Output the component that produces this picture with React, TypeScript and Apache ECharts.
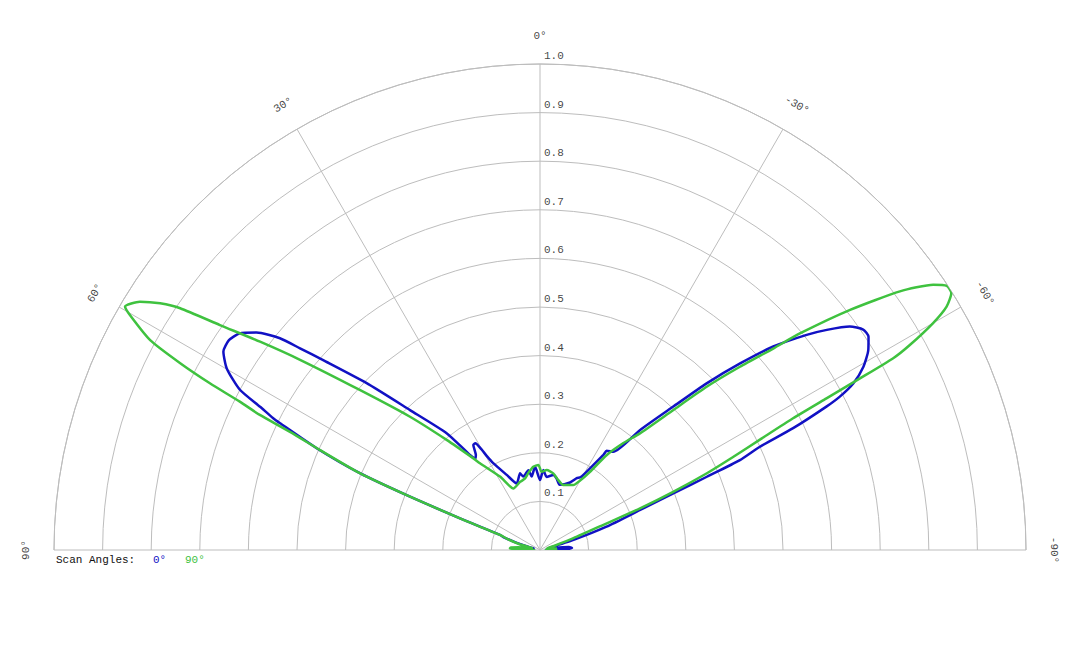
import React, { useEffect, useRef } from 'react'
import * as echarts from 'echarts'

// radius ticks (0.1 .. 1.0) and angle ticks shown round the half circle
const radiusTicks = [0.1, 0.2, 0.3, 0.4, 0.5, 0.6, 0.7, 0.8, 0.9, 1.0]
const angleTicks = [90, 60, 30, 0, -30, -60, -90]

// scan angle 0° : [angle (deg), normalized gain]
const scan0Angle = [
  90, 88, 86, 84, 82, 79, 76, 73, 70.5, 69.4, 68.4, 67.7, 66.9, 65.5, 64.0, 63.7, 62.9, 61.9, 59.9, 57.9,
  56.0, 54.2, 52.5, 50.85, 49.96, 48.8, 46.1, 42.9, 38.6, 36.4, 35.3, 34.0, 32.4, 31.2, 30.2, 29.5, 28.3, 23.9,
  19.3, 14.6, 12.8, 8.3, 6.5, 3.4, 0, -2.4, -5.2, -10.1, -13.1, -16.7, -24.0, -27.1, -29.2, -31.5, -33.7, -33.9,
  -36.7, -39.8, -42.9, -45.0, -47.0, -48.9, -51.1, -52.5, -54.2, -55.7, -57.0, -58.65, -60.45, -62.0, -62.9,
  -63.4, -64.3, -64.85, -65.8, -66.3, -67.0, -68.2, -70.7, -73.3, -77, -81, -84, -86.5, -88.5, -90,
]
const scan0Gain = [
  0.01, 0.035, 0.045, 0.04, 0.025, 0.012, 0.015, 0.05, 0.08, 0.088, 0.177, 0.289, 0.403, 0.505, 0.595, 0.613,
  0.647, 0.7, 0.745, 0.769, 0.772, 0.762, 0.735, 0.69, 0.645, 0.593, 0.495, 0.393, 0.307, 0.243, 0.231, 0.236,
  0.256, 0.257, 0.24, 0.222, 0.203, 0.169, 0.145, 0.163, 0.155, 0.166, 0.152, 0.172, 0.144, 0.165, 0.151, 0.157,
  0.151, 0.14, 0.152, 0.166, 0.172, 0.197, 0.235, 0.246, 0.252, 0.321, 0.403, 0.485, 0.563, 0.637, 0.705, 0.744,
  0.786, 0.805, 0.806, 0.791, 0.765, 0.73, 0.693, 0.659, 0.578, 0.5, 0.451, 0.375, 0.298, 0.222, 0.145, 0.072,
  0.02, 0.03, 0.06, 0.066, 0.05, 0.01,
]

// scan angle 90°
const scan90Angle = [
  90, 88.5, 87, 85, 83, 80, 77, 74, 71.5, 69.4, 68.4, 67.7, 66.9, 65.56, 64.7, 64.26, 63.7, 63.2, 62.55, 61.7,
  60.2, 59.6, 58.17, 57.0, 56.1, 54.9, 53.35, 51.6, 48.4, 44.3, 40.3, 36.0, 34.7, 28.6, 23.4, 16.3, 12, 8.7, 4.6,
  1.1, -1.2, -4.8, -9.8, -14, -19.7, -27.1, -30, -32.6, -35.1, -38, -40.6, -43.6, -45.6, -47.5, -49.2, -50.2,
  -52.25, -54.3, -56.0, -57.0, -58.0, -59.1, -60.0, -61.0, -61.5, -61.8, -62.1, -62.5, -63.3, -64.3, -65.3,
  -66.4, -67.4, -68.2, -70.6, -74, -78, -82, -85, -88, -90,
]
const scan90Gain = [
  0.01, 0.045, 0.062, 0.06, 0.045, 0.02, 0.015, 0.045, 0.07, 0.088, 0.177, 0.289, 0.403, 0.497, 0.569, 0.64,
  0.689, 0.761, 0.835, 0.911, 0.972, 0.99, 0.969, 0.932, 0.892, 0.805, 0.718, 0.63, 0.496, 0.383, 0.297, 0.233,
  0.217, 0.172, 0.138, 0.146, 0.15, 0.16, 0.172, 0.175, 0.161, 0.165, 0.16, 0.15, 0.142, 0.15, 0.165, 0.191, 0.239,
  0.28, 0.316, 0.398, 0.48, 0.558, 0.635, 0.696, 0.807, 0.912, 0.976, 0.998, 0.998, 0.975, 0.934, 0.87, 0.827,
  0.747, 0.667, 0.587, 0.51, 0.44, 0.378, 0.299, 0.223, 0.148, 0.073, 0.03, 0.015, 0.02, 0.035, 0.03, 0.01,
]

const BLUE = '#1111c4'
const GREEN = '#3fc23f'
const GRID = '#bdbdbd'
const TEXT = '#111'
const FONT = '"Liberation Mono", "DejaVu Sans Mono", monospace'

const App: React.FC = () => {
  const chartRef = useRef<HTMLDivElement>(null)

  useEffect(() => {
    if (!chartRef.current) return
    const chart = echarts.init(chartRef.current, undefined, { renderer: 'svg' })

    const toPairs = (angles: number[], gains: number[]) => angles.map((a, i) => [gains[i], a])

    const option: echarts.EChartsOption = {
      animation: false,
      backgroundColor: '#fff',
      polar: { center: [540, 550], radius: 486 },
      angleAxis: {
        type: 'value',
        min: -90,
        max: 90,
        interval: 30,
        startAngle: 0,
        endAngle: 180,
        clockwise: false,
        axisLine: { lineStyle: { color: GRID, width: 1 } },
        axisTick: { show: false },
        axisLabel: { show: false },
        splitLine: { lineStyle: { color: GRID, width: 1 } },
      } as any,
      radiusAxis: {
        type: 'value',
        min: 0,
        max: 1,
        interval: 0.1,
        axisLine: { show: false },
        axisTick: { show: false },
        axisLabel: { show: false },
        splitLine: { lineStyle: { color: GRID, width: 1 } },
      },
      series: [
        {
          name: '0°',
          type: 'line',
          coordinateSystem: 'polar',
          data: toPairs(scan0Angle, scan0Gain),
          showSymbol: false,
          smooth: 0.2,
          lineStyle: { color: BLUE, width: 2.5 },
          z: 3,
        },
        {
          name: '90°',
          type: 'line',
          coordinateSystem: 'polar',
          data: toPairs(scan90Angle, scan90Gain),
          showSymbol: false,
          smooth: 0.2,
          lineStyle: { color: GREEN, width: 2.5 },
          z: 4,
        },
        {
          // radius tick labels along the 0° line
          type: 'scatter',
          coordinateSystem: 'polar',
          symbolSize: 0,
          silent: true,
          clip: false,
          data: radiusTicks.map((r) => [r, 0]),
          label: {
            show: true,
            position: 'right',
            distance: 4,
            offset: [0, -8],
            formatter: (p: any) => p.value[0].toFixed(1),
            fontFamily: FONT,
            fontSize: 11,
            color: TEXT,
            textBorderWidth: 0,
          },
        },
        {
          // angle labels outside the outer ring
          type: 'scatter',
          coordinateSystem: 'polar',
          symbolSize: 0,
          silent: true,
          clip: false,
          data: angleTicks.map((a) => ({
            value: [1.057, a],
            label: { rotate: a },
          })),
          label: {
            show: true,
            position: 'inside',
            formatter: (p: any) => `${p.value[1]}°`,
            fontFamily: FONT,
            fontSize: 11,
            color: TEXT,
            textBorderWidth: 0,
          },
        },
      ],
      graphic: [
        {
          type: 'text',
          left: 56,
          top: 554,
          style: { text: 'Scan Angles:', font: `11px ${FONT}`, fill: TEXT },
        },
        {
          type: 'text',
          left: 153,
          top: 554,
          style: { text: '0°', font: `11px ${FONT}`, fill: BLUE },
        },
        {
          type: 'text',
          left: 185,
          top: 554,
          style: { text: '90°', font: `11px ${FONT}`, fill: GREEN },
        },
      ],
    }

    chart.setOption(option)

    return () => {
      chart.dispose()
    }
  }, [])

  return (
    <div
      ref={chartRef}
      style={{ position: 'fixed', left: 0, top: 0, width: '1080px', height: '648px' }}
    />
  )
}

export default App
